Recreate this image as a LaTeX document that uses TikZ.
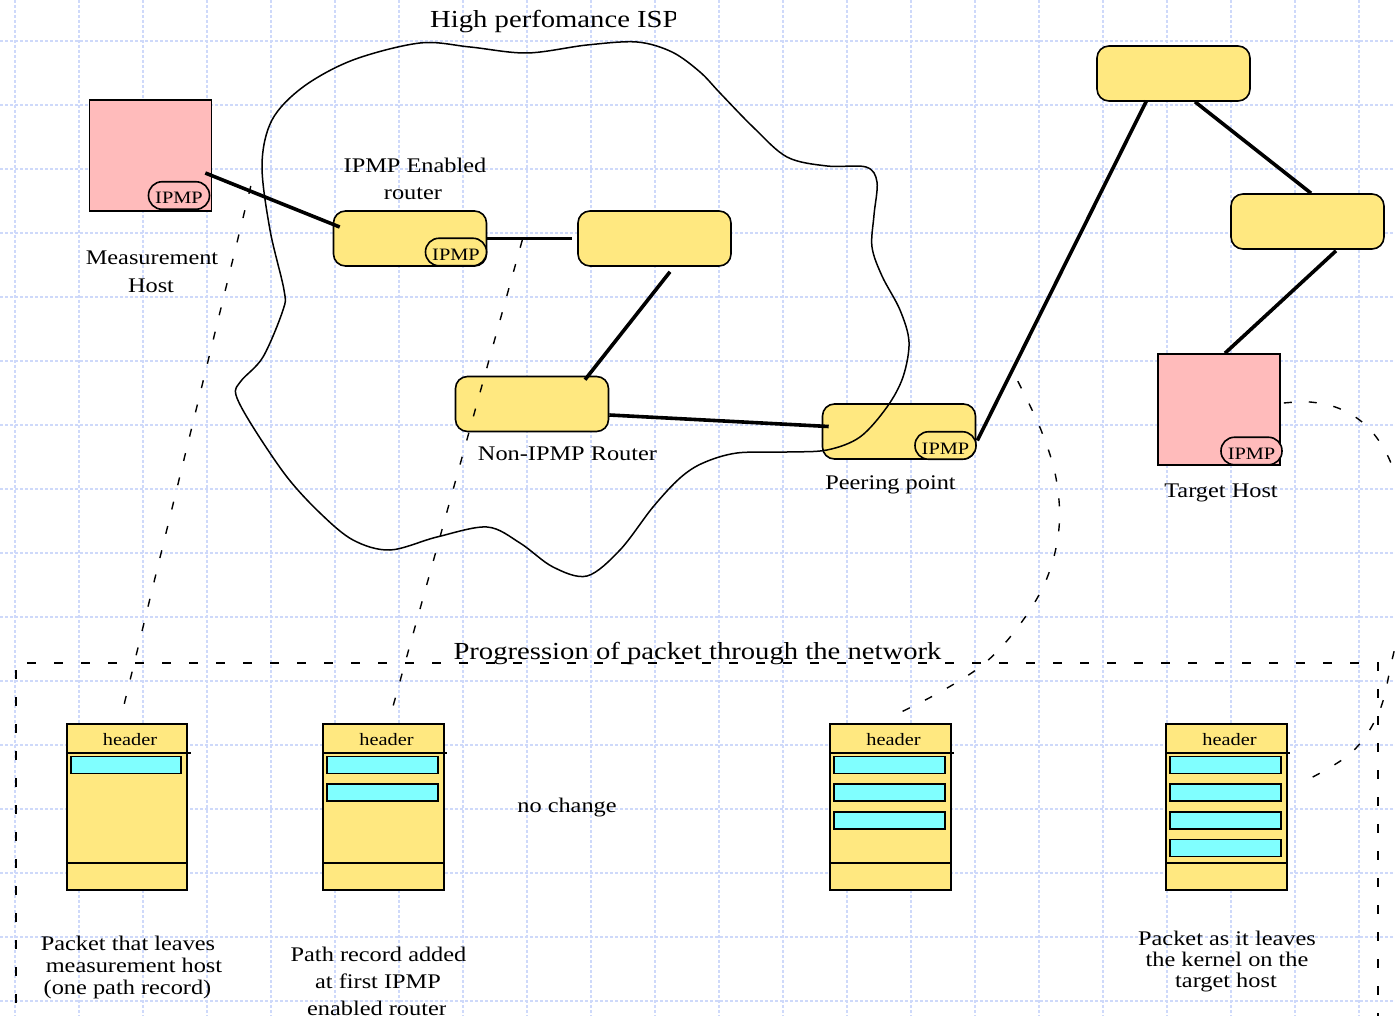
\documentclass[tikz,border=0pt]{standalone}
\usepackage{fontspec}
\setmainfont{Liberation Serif}[FakeStretch=1.17]
\usetikzlibrary{calc}
\definecolor{nodeyellow}{RGB}{255,232,128}
\definecolor{hostpink}{RGB}{255,187,187}
\definecolor{barcyan}{RGB}{128,255,255}
\definecolor{gridblue}{RGB}{206,217,250}
\begin{document}
\begin{tikzpicture}[x=1pt,y=-1pt,
  lbl/.style={font=\fontsize{20.8}{24}\selectfont, inner sep=0pt, anchor=base},
  ttl/.style={font=\fontsize{24.5}{28}\selectfont, inner sep=0pt, anchor=base},
  sml/.style={font=\fontsize{17.4}{20}\selectfont, inner sep=0pt, anchor=base},
  hostbox/.style={draw, fill=hostpink, line width=1.6pt, minimum width=122pt, minimum height=111pt, inner sep=0pt},
  routerbox/.style={draw, fill=nodeyellow, line width=1.6pt, rounded corners=12pt, minimum width=153pt, minimum height=55pt, inner sep=0pt},
  pillbox/.style={draw, line width=1.6pt, rounded corners=13.5pt, minimum width=61pt, minimum height=27.5pt, inner sep=0pt, font=\fontsize{17.4}{20}\selectfont, text height=17pt, text depth=0pt},
  packetbox/.style={draw, fill=nodeyellow, line width=1.6pt, minimum width=120.5pt, minimum height=166pt, inner sep=0pt},
  barbox/.style={draw, fill=barcyan, line width=1.6pt, minimum width=110.5pt, minimum height=17pt, inner sep=0pt},
  conn/.style={line width=3.6pt},
  dconn/.style={line width=1.4pt, dash pattern=on 8pt off 17pt},
  boxline/.style={line width=1.4pt, dash pattern=on 9pt off 18pt},
  cloudline/.style={line width=1.5pt},
  gridline/.style={gridblue, line width=1.1pt, dash pattern=on 3pt off 2pt},
  divider/.style={line width=1.4pt}
]
\useasboundingbox (0,0) rectangle (1395,1016);
\fill[white] (0,0) rectangle (1395,1016);
\begin{scope}
\clip (0,0) rectangle (1395,1016);
% grid
\foreach \i in {0,...,21} { \draw[gridline] ({15+64*\i},0) -- ({15+64*\i},1016); }
\foreach \j in {0,...,15} { \draw[gridline] (0,{41+64*\j}) -- (1395,{41+64*\j}); }

% network nodes
\node[hostbox] (mh) at (150.5,155.5) {};
\node[pillbox, fill=hostpink] (mhp) at (179,195.5) {IPMP};
\node[routerbox] (r1) at (410,238.5) {};
\node[pillbox, fill=nodeyellow] (r1p) at (456,252) {IPMP};
\node[routerbox] (r2) at (654.5,238.5) {};
\node[routerbox] (r3) at (532,404) {};
\node[routerbox] (pp) at (899,431.5) {};
\node[pillbox, fill=nodeyellow] (ppp) at (945.5,445.5) {IPMP};
\node[routerbox] (rt) at (1173.5,73.5) {};
\node[routerbox] (rr) at (1307.5,221.5) {};
\node[hostbox] (th) at (1219,409.5) {};
\node[pillbox, fill=hostpink] (thp) at (1251.5,451) {IPMP};

% packets
\foreach \p/\cx/\n in {1/127/1, 2/383.5/2, 3/890.5/3, 4/1226.5/4} {
  \node[packetbox] (pk\p) at (\cx,807) {};
  \draw[divider] ([shift={(0,29.7)}]pk\p.north west) -- ([shift={(2.5,29.7)}]pk\p.north east);
  \draw[divider] ([shift={(0,-28)}]pk\p.south west) -- ([shift={(0,-28)}]pk\p.south east);
  \node[sml] (hd\p) at ([shift={(3,22)}]pk\p.north) {header};
  \foreach \k in {1,...,\n} {
    \node[barbox] (bar\p\k) at ([shift={(-1,{41.8+27.7*(\k-1)})}]pk\p.north) {};
  }
}

% solid connectors
\draw[conn] ([shift={(-7,17.5)}]mh.east) -- ([shift={(7,-11.5)}]r1.west);
\draw[conn] (r1.east) -- ([shift={(-5,0)}]r2.west);
\draw[conn] ([shift={(15.5,5)}]r2.south) -- ([shift={(53,4)}]r3.north);
\draw[conn] ([shift={(0,11)}]r3.east) -- ([shift={(7,-5)}]pp.west);
\draw[conn] ([shift={(1,9)}]pp.east) -- ([shift={(-27,-1)}]rt.south);
\draw[conn] ([shift={(21.5,0)}]rt.south) -- ([shift={(3.5,0)}]rr.north);
\draw[conn] ([shift={(28.5,1)}]rr.south) -- ([shift={(6,0)}]th.north);

% dashed connectors
\draw[dconn] ([shift={(38.5,30.5)}]mh.east) -- ([shift={(-6,-6)}]pk1.north);
\draw[dconn] ([shift={(35,1.5)}]r1.east) -- ([shift={(9,-15)}]pk2.north);
\coordinate (d3s) at ([shift={(41.5,-22)}]pp.north east);
\coordinate (d3e) at ([shift={(0,-6)}]pk3.north);
\draw[dconn] plot[smooth, tension=0.6] coordinates {(d3s) (1041,430) (1056,478) (1059,528) (1047,578) (1021,623) (986,662) (942,691) (d3e)};
\coordinate (d4s) at ([shift={(3,-6.5)}]th.east);
\coordinate (d4e) at ([shift={(15.5,-25)}]pk4.east);
\draw[dconn] plot[smooth, tension=0.6] coordinates {(d4s) (1310,402) (1338,408) (1362,422) (1381,444) (1395,475) (1406,530) (1405,600) (1392,660) (1379,712) (1351,753) (d4e)};

% cloud
\draw[cloudline] plot[smooth cycle, tension=0.55] coordinates {
 (262,165) (272,120) (303,87) (353,60) (420,43) (470,47) (527,53) (587,45) (637,42)
 (672,52) (700,72) (720,93) (753,127) (787,157) (827,166) (866,167) (877,182)
 (874,215) (872,247) (882,276) (900,310) (909,342) (903,377) (887,407) (860,437)
 (827,450) (787,452) (737,453) (703,463) (680,478) (653,507) (620,550) (587,576)
 (553,567) (520,543) (487,527) (437,537) (390,550) (353,540) (320,513) (287,477)
 (253,427) (236,395) (241,381) (263,357) (283,310) (284,290) (270,230)};

% progression frame
\draw[boxline] (16,1030) -- (16,663) -- (1378,663) -- (1378,1030);

% labels
\begin{scope}
\clip (0,0) rectangle (675,60);
\node[ttl, anchor=base west] (title) at (430,28) {High perfomance ISP};
\end{scope}
\node[lbl] (lipmp1) at (415,172.7) {IPMP Enabled};
\node[lbl] (lipmp2) at (413,200) {router};
\node[lbl] (lmh1) at (152,265) {Measurement};
\node[lbl] (lmh2) at (151,293) {Host};
\node[lbl] (lr3) at (567.5,460) {Non-IPMP Router};
\node[lbl] (lpp) at (890.5,489) {Peering point};
\node[lbl] (lth) at (1221,497) {Target Host};
\node[lbl] (lnc) at (567,812) {no change};
\node[ttl] (lprog) at (697.5,659) {Progression of packet through the network};
\node[lbl] (lp1a) at (128,950.7) {Packet that leaves};
\node[lbl] (lp1b) at (134,972.7) {measurement host};
\node[lbl] (lp1c) at (127.5,994) {(one path record)};
\node[lbl] (lp2a) at (378.5,961.7) {Path record added};
\node[lbl] (lp2b) at (378,988) {at first IPMP};
\begin{scope}
\clip (0,990) rectangle (445,1016);
\node[lbl] (lp2c) at (377,1015) {enabled router};
\end{scope}
\node[lbl] (lp4a) at (1227,945) {Packet as it leaves};
\node[lbl] (lp4b) at (1227,966.7) {the kernel on the};
\node[lbl] (lp4c) at (1226,987.7) {target host};
\end{scope}
\end{tikzpicture}
\end{document}
